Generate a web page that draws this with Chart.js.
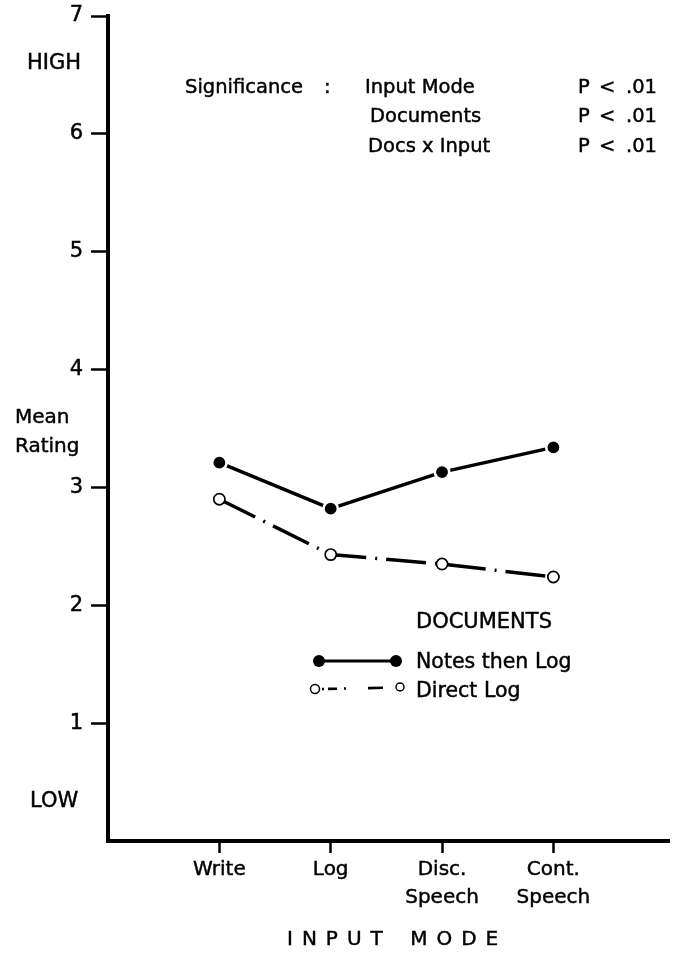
<!DOCTYPE html>
<html>
<head>
<meta charset="utf-8">
<script src="https://cdn.jsdelivr.net/npm/chart.js@4/dist/chart.umd.min.js"></script>
<style>
  html, body { margin: 0; padding: 0; background: #fff; }
  #wrap { width: 679px; height: 965px; position: relative; }
</style>
</head>
<body>
<div id="wrap"><canvas id="c" width="679" height="965"></canvas></div>
<script>
// Input modes along the horizontal axis
const inputModes = ['Write', 'Log', 'Disc. Speech', 'Cont. Speech'];
// Mean rating per input mode, one list per documents condition
const notesThenLog = [3.21, 2.82, 3.13, 3.34];
const directLog = [2.90, 2.43, 2.35, 2.24];
// Rating scale ticks
const ratingTicks = [1, 2, 3, 4, 5, 6, 7];
// Significance table: effects and their levels
const sigEffects = ['Input Mode', 'Documents', 'Docs x Input'];
const sigLevels = ['.01', '.01', '.01'];

const FONT = "'DejaVu Sans', sans-serif";
const INK = '#000';
const TEXT_STROKE = 0.45;

const toPoints = arr => arr.map((v, i) => ({ x: i + 1, y: v }));

// Annotations: scale words, axis titles, significance table, legend
const annotations = {
  id: 'annotations',
  afterDraw(chart) {
    const ctx = chart.ctx;
    ctx.save();
    ctx.fillStyle = INK;
    ctx.strokeStyle = INK;
    ctx.textBaseline = 'alphabetic';
    ctx.textAlign = 'left';

    const text = (s, x, y) => {
      ctx.lineWidth = TEXT_STROKE;
      ctx.fillText(s, x, y);
      ctx.strokeText(s, x, y);
    };

    ctx.font = `21px ${FONT}`;
    text('HIGH', 27, 69);
    text('LOW', 30, 807);
    ctx.font = `20px ${FONT}`;
    text('Mean', 15, 423);
    text('Rating', 15, 452);

    // significance table
    ctx.font = `19.5px ${FONT}`;
    text('Significance', 185, 93);
    text(':', 324, 93);
    const rowY = [93, 122, 152];
    const effectX = [365, 370, 368];
    sigEffects.forEach((name, i) => {
      text(name, effectX[i], rowY[i]);
      text('P', 578, rowY[i]);
      text('<', 599, rowY[i]);
      text(sigLevels[i], 626, rowY[i]);
    });

    // legend
    ctx.font = `21px ${FONT}`;
    text('DOCUMENTS', 416, 628);
    ctx.font = `20.5px ${FONT}`;
    text('Notes then Log', 416, 668);
    text('Direct Log', 416, 697);

    ctx.lineWidth = 2.8;
    ctx.beginPath();
    ctx.moveTo(324, 661); ctx.lineTo(391, 661);
    ctx.stroke();
    [319, 396].forEach(x => {
      ctx.beginPath(); ctx.arc(x, 661, 6, 0, Math.PI * 2); ctx.fill();
    });

    ctx.lineWidth = 1.5;
    ctx.beginPath(); ctx.arc(315, 689, 4.5, 0, Math.PI * 2); ctx.stroke();
    ctx.beginPath(); ctx.arc(400, 687, 4, 0, Math.PI * 2); ctx.stroke();
    ctx.lineWidth = 2.6;
    const segs = [[322, 324], [328, 337], [344, 346], [368, 383]];
    segs.forEach(([a, b]) => {
      ctx.beginPath(); ctx.moveTo(a, 689 - (a - 322) * 0.02); ctx.lineTo(b, 689 - (b - 322) * 0.02); ctx.stroke();
    });

    // horizontal axis title, letter-spaced
    ctx.font = `20px ${FONT}`;
    const title = 'INPUT MODE';
    let x = 287;
    for (const ch of title) {
      text(ch, x, 945);
      x += ctx.measureText(ch).width + (ch === ' ' ? 12 : 9);
    }
    ctx.restore();
  }
};

new Chart(document.getElementById('c'), {
  type: 'line',
  data: {
    datasets: [
      {
        label: 'Notes then Log',
        data: toPoints(notesThenLog),
        borderColor: INK,
        borderWidth: 3.5,
        tension: 0,
        pointRadius: 7.2,
        pointBackgroundColor: INK,
        pointBorderColor: '#fff',
        pointBorderWidth: 2.6
      },
      {
        label: 'Direct Log',
        data: toPoints(directLog),
        borderColor: INK,
        borderWidth: 3.5,
        borderDash: [40, 9, 2, 9],
        tension: 0,
        pointRadius: 5.6,
        pointBackgroundColor: '#fff',
        pointBorderColor: INK,
        pointBorderWidth: 1.7
      }
    ]
  },
  options: {
    responsive: false,
    animation: false,
    devicePixelRatio: 1,
    layout: { padding: { left: 0, top: 16, right: 7, bottom: 0 } },
    plugins: { legend: { display: false }, tooltip: { enabled: false } },
    scales: {
      x: {
        type: 'linear',
        position: 'bottom',
        min: 0,
        max: 5.04,
        afterBuildTicks: s => { s.ticks = inputModes.map((_, i) => ({ value: i + 1 })); },
        afterFit: s => { s.height = 124; s.paddingLeft = 0; s.paddingRight = 0; },
        ticks: {
          autoSkip: false,
          maxRotation: 0,
          color: INK,
          textStrokeColor: INK,
          textStrokeWidth: TEXT_STROKE,
          padding: 3,
          font: { family: FONT, size: 20, lineHeight: 1.4 },
          callback: v => inputModes[v - 1] ? inputModes[v - 1].split(' ') : ''
        },
        grid: { drawOnChartArea: false, drawTicks: true, tickLength: 12, tickWidth: 2.5, tickColor: INK },
        border: { display: true, color: INK, width: 4 }
      },
      y: {
        type: 'linear',
        min: 0,
        max: 7,
        afterBuildTicks: s => { s.ticks = ratingTicks.map(v => ({ value: v })); },
        afterFit: s => { s.width = 108; s.paddingTop = 0; s.paddingBottom = 0; },
        ticks: {
          color: INK,
          textStrokeColor: INK,
          textStrokeWidth: TEXT_STROKE,
          padding: 8,
          font: { family: FONT, size: 21 }
        },
        grid: { drawOnChartArea: false, drawTicks: true, tickLength: 17, tickWidth: 2.5, tickColor: INK },
        border: { display: true, color: INK, width: 4 }
      }
    }
  },
  plugins: [annotations]
});
</script>
</body>
</html>
